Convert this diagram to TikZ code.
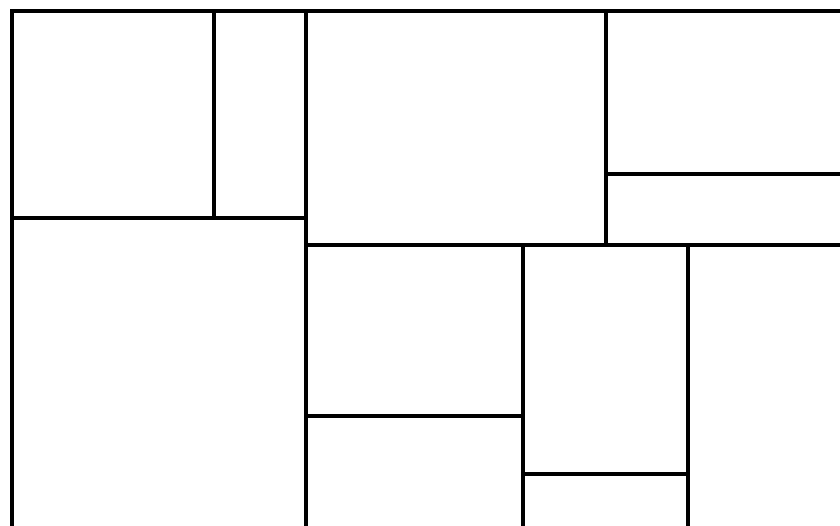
\documentclass[tikz,border=0pt]{standalone}
\usepackage{tikz}

\begin{document}
\begin{tikzpicture}[
    x=0.02cm, y=-0.02cm,
    edge/.style={line width=2pt, line cap=rect, line join=miter, black}
  ]
    \useasboundingbox (0,0) rectangle (840,526);
    % outer frame
    \draw[edge] (12,526) -- (12,11) -- (840,11);
    % left block
    \draw[edge] (214,11) -- (214,218);
    \draw[edge] (12,218) -- (306,218);
    \draw[edge] (306,11) -- (306,526);
    % upper right block
    \draw[edge] (606,11) -- (606,245);
    \draw[edge] (606,174) -- (840,174);
    \draw[edge] (306,245) -- (840,245);
    % lower right block
    \draw[edge] (523,245) -- (523,526);
    \draw[edge] (306,416) -- (523,416);
    \draw[edge] (688,245) -- (688,526);
    \draw[edge] (523,474) -- (688,474);
  \end{tikzpicture}
\end{document}
